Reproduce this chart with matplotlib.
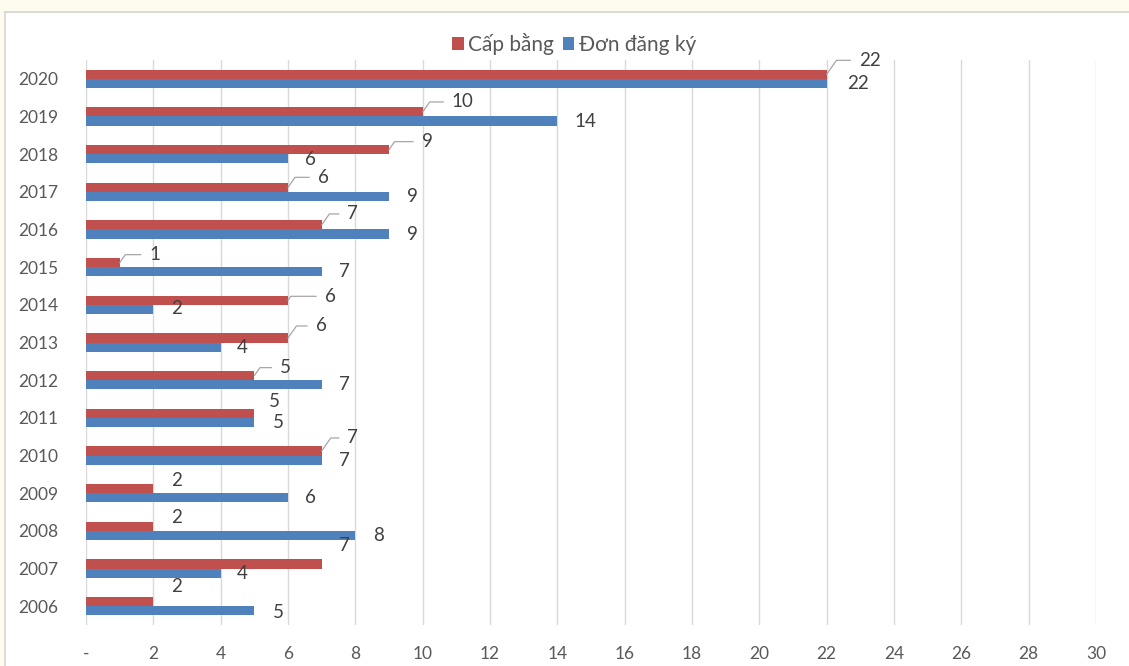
import matplotlib
matplotlib.use("Agg")
import matplotlib.pyplot as plt
from matplotlib.patches import Rectangle
from matplotlib.lines import Line2D
from matplotlib.ticker import FuncFormatter, MultipleLocator

plt.rcParams['font.family'] = ['Lato', 'DejaVu Sans']

years = [2006, 2007, 2008, 2009, 2010, 2011, 2012, 2013, 2014, 2015, 2016, 2017, 2018, 2019, 2020]
cap_bang = [2, 7, 2, 2, 7, 5, 5, 6, 6, 1, 7, 6, 9, 10, 22]
don_dang_ky = [5, 4, 8, 6, 7, 5, 7, 4, 2, 7, 9, 9, 6, 14, 22]
series_names = ["Cấp bằng", "Đơn đăng ký"]

# label offsets (pixels) relative to bar ends, style only
red_off = [(23, 15), (23, 18), (23, 9), (23, 8), (31, 13), (20, 12), (31, 8), (33, 12),
           (42, 4), (35, 8), (31, 11), (35, 10), (38, 8), (40, 10), (43, 14)]
red_leader = [False, False, False, False, True, False, True, True,
              True, True, True, True, True, True, True]
blue_off = [(24, -2), (22, 0), (23, 0), (22, 0), (23, 0), (24, 0), (23, 0), (22, 0),
            (23, 1), (23, 0), (23, 0), (23, 0), (22, -1), (28, 0), (31, 0)]

RED = "#C0504D"
BLUE = "#4F81BD"
TXT = "#595959"
GRID = "#D9D9D9"

W, H = 1129, 666
fig = plt.figure(figsize=(W / 100, H / 100), dpi=100)
fig.patch.set_facecolor("white")

# outer cream frame
fig.add_artist(Rectangle((0, 1 - 11 / H), 1, 11 / H, transform=fig.transFigure,
                         facecolor="#FEFCEE", edgecolor="none", zorder=0))
fig.add_artist(Rectangle((0, 0), 5 / W, 1, transform=fig.transFigure,
                         facecolor="#FEFCEE", edgecolor="none", zorder=0))
fig.add_artist(Line2D([5 / W, 1], [1 - 12 / H, 1 - 12 / H], transform=fig.transFigure,
                      color="#D6D6D0", lw=1.2))
fig.add_artist(Line2D([5 / W, 5 / W], [0, 1 - 12 / H], transform=fig.transFigure,
                      color="#D6D6D0", lw=1.2))

ax = fig.add_axes([86 / W, 1 - 625 / H, (1096 - 86) / W, (625 - 60) / H])
ax.set_facecolor("white")

n = len(years)
pos = list(range(n))
h = 0.24
red_y = [p + h / 2 for p in pos]
blue_y = [p - h / 2 for p in pos]

ax.barh(red_y, cap_bang, height=h, color=RED, label=series_names[0], zorder=3)
ax.barh(blue_y, don_dang_ky, height=h, color=BLUE, label=series_names[1], zorder=3)

ax.set_xlim(0, 30)
ax.set_ylim(-0.5, n - 0.5)
ax.xaxis.set_major_locator(MultipleLocator(2))
ax.xaxis.set_major_formatter(FuncFormatter(lambda v, p: "-" if v == 0 else f"{v:g}"))
ax.set_yticks(pos)
ax.set_yticklabels([str(y) for y in years])
ax.grid(axis="x", color=GRID, lw=1.0, zorder=0)
ax.set_axisbelow(True)
for s in ax.spines.values():
    s.set_visible(False)
ax.tick_params(axis="both", length=0, colors=TXT, labelsize=12.5)
ax.tick_params(axis="x", pad=15)
ax.tick_params(axis="y", pad=20)

for i in range(n):
    dx, dy = red_off[i]
    ap = None
    if red_leader[i]:
        ap = dict(arrowstyle="-", color="#A6A6A6", lw=0.9,
                  connectionstyle="angle,angleA=0,angleB=55,rad=0",
                  shrinkA=4, shrinkB=0)
    ax.annotate(str(cap_bang[i]), xy=(cap_bang[i], red_y[i]), xytext=(dx, dy),
                textcoords="offset pixels", ha="center", va="center",
                fontsize=13.5, color="#404040", arrowprops=ap, zorder=5)
    dx, dy = blue_off[i]
    ax.annotate(str(don_dang_ky[i]), xy=(don_dang_ky[i], blue_y[i]), xytext=(dx, dy),
                textcoords="offset pixels", ha="center", va="center",
                fontsize=13.5, color="#404040", zorder=5)

leg = fig.legend(loc="center", bbox_to_anchor=(574 / W, 1 - 44 / H), ncol=2,
                 frameon=False, fontsize=15, handlelength=0.55, handleheight=0.55,
                 handletextpad=0.2, columnspacing=0.45)
for t in leg.get_texts():
    t.set_color(TXT)

fig.savefig("out.png", dpi=100, facecolor=fig.get_facecolor())
